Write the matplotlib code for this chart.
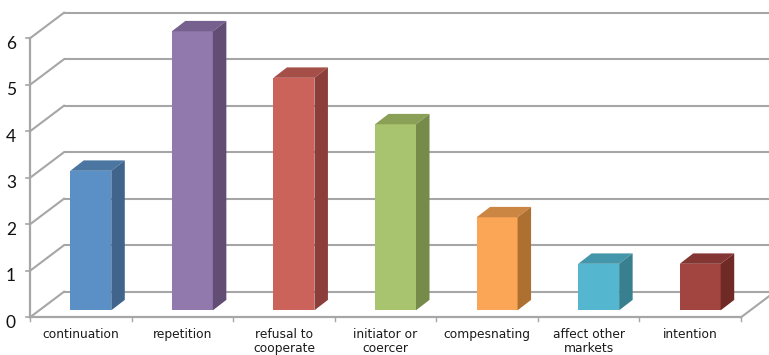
import matplotlib
matplotlib.use("Agg")
import matplotlib.pyplot as plt
from matplotlib.patches import Polygon

categories = ["continuation", "repetition", "refusal to\ncooperate", "initiator or\ncoercer",
              "compesnating", "affect other\nmarkets", "intention"]
values = [3, 6, 5, 4, 2, 1, 1]
front = ["#5B90C6", "#9179AE", "#CB635A", "#A9C46E", "#FBA556", "#54B7CF", "#A2443F"]
top = ["#4A76A1", "#75608E", "#A54F48", "#8AA057", "#CC8644", "#4496AA", "#843633"]
side = ["#40648C", "#624D75", "#8C3F3A", "#768B49", "#AE7030", "#38808F", "#702A26"]
y_ticks = [0, 1, 2, 3, 4, 5, 6]

W, H = 769, 355
L, R, B, T = 30, 741, 317.3, 38.3
fig = plt.figure(figsize=(W / 100, H / 100), dpi=100)
ax = fig.add_axes([L / W, 1 - B / H, (R - L) / W, (B - T) / H])
ax.set_xlim(-0.5, 6.5)
ax.set_ylim(0, 6)
ax.axis("off")

px = (R - L) / 7
py = (B - T) / 6
DX, DY = 34 / px, 25.6 / py        # depth of the back wall
dx, dy = 13.5 / px, 10.4 / py      # depth of a bar
GRID = "#A6A6A6"
x0, x1 = -0.5, 6.5

for v in y_ticks:
    ax.plot([x0 + DX, x1 + DX], [v + DY, v + DY], color=GRID, lw=1.5, clip_on=False, zorder=1, solid_capstyle="butt")
    ax.plot([x0, x0 + DX], [v, v + DY], color=GRID, lw=1.5, clip_on=False, zorder=1)
    ax.plot([x0 - 4 / px, x0], [v, v], color=GRID, lw=1.2, clip_on=False, zorder=2)
    ax.text(x0 - 14 / px, v - 5.5 / py, str(v), ha="right", va="center", fontsize=12.5, family="Lato", color="#111111", clip_on=False)

ax.plot([x0, x0], [0, 6], color=GRID, lw=1.6, clip_on=False, zorder=2)
ax.plot([x0, x1], [0, 0], color=GRID, lw=1.6, clip_on=False, zorder=2)
ax.plot([x1, x1 + DX], [0, DY], color=GRID, lw=1.5, clip_on=False, zorder=1)

for i in range(8):
    ax.plot([i - 0.5, i - 0.5], [0, -4 / py], color=GRID, lw=1.0, clip_on=False, zorder=2)

bw = 41 / px
shift = 10 / px
base = 7 / py
for i, v in enumerate(values):
    l = i + shift - bw / 2
    r = l + bw
    t = v + base
    ax.bar(i + shift, v, width=bw, bottom=base, color=front[i], linewidth=0, zorder=4, clip_on=False)
    ax.add_patch(Polygon([(l, t), (r, t), (r + dx, t + dy), (l + dx, t + dy)], closed=True,
                         facecolor=top[i], edgecolor="none", zorder=4, clip_on=False))
    ax.add_patch(Polygon([(r, base), (r + dx, base + dy), (r + dx, t + dy), (r, t)], closed=True,
                         facecolor=side[i], edgecolor="none", zorder=4, clip_on=False))

for i, c in enumerate(categories):
    ax.text(i, -11 / py, c, ha="center", va="top", fontsize=8.8, family="DejaVu Sans", color="#1a1a1a",
            linespacing=1.1, clip_on=False)

fig.savefig("out.png", dpi=100)
